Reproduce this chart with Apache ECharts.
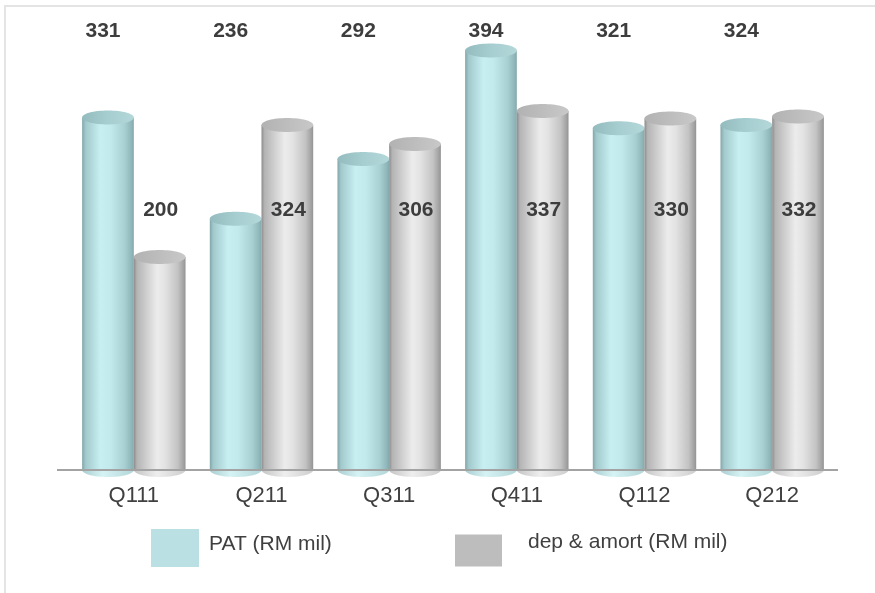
<!DOCTYPE html>
<html>
<head>
<meta charset="utf-8">
<script src="https://cdn.jsdelivr.net/npm/echarts@6/dist/echarts.min.js"></script>
<style>
  html, body { margin: 0; padding: 0; background: #ffffff; }
  #chart { width: 875px; height: 593px; }
</style>
</head>
<body>
<div id="chart"></div>
<script>
// Quarterly figures, RM million
const categories = ['Q111', 'Q211', 'Q311', 'Q411', 'Q112', 'Q212'];
const patValues = [331, 236, 292, 394, 321, 324];
const depValues = [200, 324, 306, 337, 330, 332];
const seriesNames = ['PAT (RM mil)', 'dep & amort (RM mil)'];

// value levels at which the value captions sit
const PAT_LABEL_LEVEL = 412;
const DEP_LABEL_LEVEL = 244;

const FONT = '"Liberation Sans", Arial, sans-serif';
const LG = echarts.graphic.LinearGradient;

const tealBody = () => new LG(0, 0, 1, 0, [
  { offset: 0, color: '#82a7aa' },
  { offset: 0.07, color: '#a2c9cc' },
  { offset: 0.35, color: '#c7eef0' },
  { offset: 0.55, color: '#c2eaec' },
  { offset: 0.82, color: '#a8d0d3' },
  { offset: 0.95, color: '#90b7ba' },
  { offset: 1, color: '#85a9ac' }
]);
const tealBottom = () => new LG(0, 0, 1, 0, [
  { offset: 0, color: '#a9cdd0' },
  { offset: 0.4, color: '#d6f3f4' },
  { offset: 1, color: '#b3d6d8' }
]);
const tealCap = () => new LG(0, 0, 1, 0, [
  { offset: 0, color: '#94bcbf' },
  { offset: 0.5, color: '#a6cdd0' },
  { offset: 1, color: '#b4d8da' }
]);
const grayBody = () => new LG(0, 0, 1, 0, [
  { offset: 0, color: '#8c8c8c' },
  { offset: 0.06, color: '#b4b4b4' },
  { offset: 0.45, color: '#ececec' },
  { offset: 0.6, color: '#e3e3e3' },
  { offset: 0.85, color: '#c3c3c3' },
  { offset: 0.96, color: '#a2a2a2' },
  { offset: 1, color: '#939393' }
]);
const grayBottom = () => new LG(0, 0, 1, 0, [
  { offset: 0, color: '#c4c4c4' },
  { offset: 0.45, color: '#eeeeee' },
  { offset: 1, color: '#cdcdcd' }
]);
const grayCap = () => new LG(0, 0, 1, 0, [
  { offset: 0, color: '#b2b2b2' },
  { offset: 0.5, color: '#bdbdbd' },
  { offset: 1, color: '#c8c8c8' }
]);

// side: -1 = left cylinder of the pair, +1 = right cylinder
function cylinder(side, body, bottom, cap, labelLevel, labelDx) {
  return function (params, api) {
    const i = api.value(0);
    const v = api.value(1);
    const base = api.coord([i, 0]);
    const top = api.coord([i, v]);
    const band = api.size([1, 0])[0];
    const w = band * 0.405;
    const cx = base[0] + side * w / 2;
    const ry = 7;
    const labelY = api.coord([i, labelLevel])[1];
    return {
      type: 'group',
      children: [
        { type: 'ellipse', shape: { cx: cx, cy: base[1], rx: w / 2, ry: ry }, style: { fill: bottom() } },
        { type: 'rect', shape: { x: cx - w / 2, y: top[1], width: w, height: base[1] - top[1] }, style: { fill: body() } },
        { type: 'ellipse', shape: { cx: cx, cy: top[1], rx: w / 2, ry: ry }, style: { fill: cap() } },
        {
          type: 'text',
          style: {
            text: String(v), x: cx + labelDx, y: labelY,
            align: 'center', verticalAlign: 'middle',
            font: 'bold 21px ' + FONT, fill: '#3d3d3d'
          }
        }
      ]
    };
  };
}

const chart = echarts.init(document.getElementById('chart'), null, { renderer: 'canvas' });
chart.setOption({
  animation: false,
  backgroundColor: '#ffffff',
  grid: { left: 70, right: 39, top: 44, bottom: 123, containLabel: false },
  xAxis: {
    type: 'category',
    data: categories,
    axisLine: { show: false },
    axisTick: { show: false },
    axisLabel: { color: '#404040', fontSize: 22, fontFamily: FONT, margin: 15 }
  },
  yAxis: { type: 'value', min: 0, max: 400, show: false, splitLine: { show: false } },
  legend: [
    {
      data: [seriesNames[0]], left: 151, top: 529, padding: 0,
      itemWidth: 48, itemHeight: 38, icon: 'rect',
      formatter: '{t|{name}}',
      textStyle: {
        color: '#404040', fontSize: 21, fontFamily: FONT,
        rich: { t: { color: '#404040', fontSize: 21, fontFamily: FONT, padding: [0, 0, 8, 5] } }
      }
    },
    {
      data: [seriesNames[1]], left: 455, top: 532, padding: 0,
      itemWidth: 47, itemHeight: 32, icon: 'rect',
      formatter: '{t|{name}}',
      textStyle: {
        color: '#404040', fontSize: 21, fontFamily: FONT,
        rich: { t: { color: '#404040', fontSize: 21, fontFamily: FONT, padding: [0, 0, 16, 21] } }
      }
    }
  ],
  series: [
    {
      name: seriesNames[0], type: 'custom',
      itemStyle: { color: '#bae0e3' },
      encode: { x: 0, y: 1 },
      data: patValues.map((v, i) => [i, v]),
      renderItem: cylinder(-1, tealBody, tealBottom, tealCap, PAT_LABEL_LEVEL, -5)
    },
    {
      name: seriesNames[1], type: 'custom',
      itemStyle: { color: '#bdbdbd' },
      encode: { x: 0, y: 1 },
      data: depValues.map((v, i) => [i, v]),
      renderItem: cylinder(1, grayBody, grayBottom, grayCap, DEP_LABEL_LEVEL, 1)
    }
  ],
  graphic: [
    { type: 'rect', z: 0, silent: true, shape: { x: 5, y: 6, width: 900, height: 620 },
      style: { fill: 'none', stroke: '#e4e4e4', lineWidth: 2 } },
    { type: 'line', z: 100, silent: true, shape: { x1: 57, y1: 470, x2: 838, y2: 470 },
      style: { stroke: '#a3a3a3', lineWidth: 2 } }
  ]
});
</script>
</body>
</html>
